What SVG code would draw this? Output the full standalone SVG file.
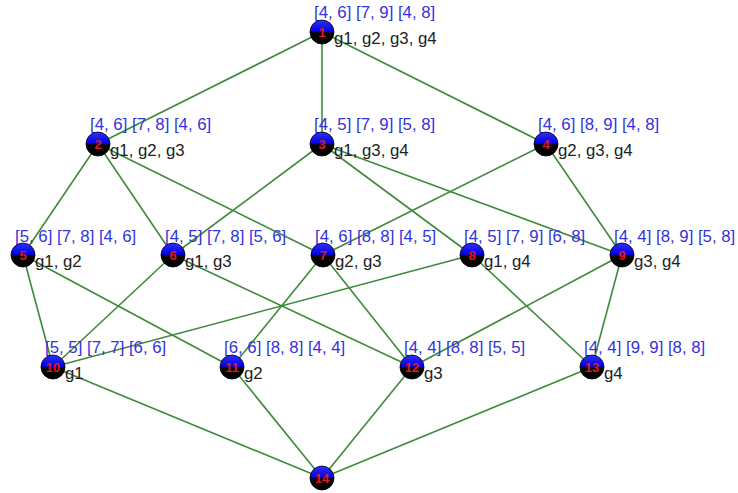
<svg xmlns="http://www.w3.org/2000/svg" width="738" height="493" viewBox="0 0 738 493">
<defs>
<linearGradient id="ball" x1="0" y1="0" x2="0" y2="1">
<stop offset="0" stop-color="#3030ff"/>
<stop offset="0.47" stop-color="#0000e8"/>
<stop offset="0.53" stop-color="#050505"/>
<stop offset="1" stop-color="#000"/>
</linearGradient>
</defs>
<style>
.e{stroke:#3f8a3a;stroke-width:1.6;fill:none}
.n circle{fill:url(#ball);stroke:#000;stroke-width:0.8}
.num{font-family:"Liberation Sans",Arial,sans-serif;font-size:13px;font-weight:bold;fill:#e01818;text-anchor:middle}
.iv{font-family:"Liberation Sans",Arial,sans-serif;font-size:16.8px;fill:#3333dc}
.g{font-family:"Liberation Sans",Arial,sans-serif;font-size:16.8px;fill:#222}
</style>
<rect width="738" height="493" fill="#fff"/>
<g id="connectors">
<line class="e" x1="322" y1="32" x2="98" y2="144"/>
<line class="e" x1="322" y1="32" x2="322" y2="144"/>
<line class="e" x1="322" y1="32" x2="546" y2="144"/>
<line class="e" x1="98" y1="144" x2="23" y2="255"/>
<line class="e" x1="98" y1="144" x2="173" y2="255"/>
<line class="e" x1="98" y1="144" x2="323" y2="255"/>
<line class="e" x1="322" y1="144" x2="173" y2="255"/>
<line class="e" x1="322" y1="144" x2="472" y2="255"/>
<line class="e" x1="322" y1="144" x2="622" y2="255"/>
<line class="e" x1="546" y1="144" x2="323" y2="255"/>
<line class="e" x1="546" y1="144" x2="622" y2="255"/>
<line class="e" x1="23" y1="255" x2="53" y2="367"/>
<line class="e" x1="23" y1="255" x2="232" y2="367"/>
<line class="e" x1="173" y1="255" x2="53" y2="367"/>
<line class="e" x1="173" y1="255" x2="412" y2="367"/>
<line class="e" x1="323" y1="255" x2="232" y2="367"/>
<line class="e" x1="323" y1="255" x2="412" y2="367"/>
<line class="e" x1="472" y1="255" x2="53" y2="367"/>
<line class="e" x1="472" y1="255" x2="592" y2="367"/>
<line class="e" x1="622" y1="255" x2="412" y2="367"/>
<line class="e" x1="622" y1="255" x2="592" y2="367"/>
<line class="e" x1="53" y1="367" x2="322" y2="478"/>
<line class="e" x1="232" y1="367" x2="322" y2="478"/>
<line class="e" x1="412" y1="367" x2="322" y2="478"/>
<line class="e" x1="592" y1="367" x2="322" y2="478"/>
</g>
<g id="n1" class="n"><text class="iv" x="314" y="18">[4, 6] [7, 9] [4, 8]</text><text class="g" x="334" y="44">g1, g2, g3, g4</text><circle cx="322" cy="32" r="12"/><text class="num" x="322" y="36.5">1</text></g>
<g id="n2" class="n"><text class="iv" x="90" y="130">[4, 6] [7, 8] [4, 6]</text><text class="g" x="110" y="156">g1, g2, g3</text><circle cx="98" cy="144" r="12"/><text class="num" x="98" y="148.5">2</text></g>
<g id="n3" class="n"><text class="iv" x="314" y="130">[4, 5] [7, 9] [5, 8]</text><text class="g" x="334" y="156">g1, g3, g4</text><circle cx="322" cy="144" r="12"/><text class="num" x="322" y="148.5">3</text></g>
<g id="n4" class="n"><text class="iv" x="538" y="130">[4, 6] [8, 9] [4, 8]</text><text class="g" x="558" y="156">g2, g3, g4</text><circle cx="546" cy="144" r="12"/><text class="num" x="546" y="148.5">4</text></g>
<g id="n5" class="n"><text class="iv" x="15" y="242">[5, 6] [7, 8] [4, 6]</text><text class="g" x="35" y="267">g1, g2</text><circle cx="23" cy="255" r="12"/><text class="num" x="23" y="259.5">5</text></g>
<g id="n6" class="n"><text class="iv" x="165" y="242">[4, 5] [7, 8] [5, 6]</text><text class="g" x="185" y="267">g1, g3</text><circle cx="173" cy="255" r="12"/><text class="num" x="173" y="259.5">6</text></g>
<g id="n7" class="n"><text class="iv" x="315" y="242">[4, 6] [8, 8] [4, 5]</text><text class="g" x="335" y="267">g2, g3</text><circle cx="323" cy="255" r="12"/><text class="num" x="323" y="259.5">7</text></g>
<g id="n8" class="n"><text class="iv" x="464" y="242">[4, 5] [7, 9] [6, 8]</text><text class="g" x="484" y="267">g1, g4</text><circle cx="472" cy="255" r="12"/><text class="num" x="472" y="259.5">8</text></g>
<g id="n9" class="n"><text class="iv" x="614" y="242">[4, 4] [8, 9] [5, 8]</text><text class="g" x="634" y="267">g3, g4</text><circle cx="622" cy="255" r="12"/><text class="num" x="622" y="259.5">9</text></g>
<g id="n10" class="n"><text class="iv" x="45" y="353">[5, 5] [7, 7] [6, 6]</text><text class="g" x="65" y="379">g1</text><circle cx="53" cy="367" r="12"/><text class="num" x="53" y="371.5">10</text></g>
<g id="n11" class="n"><text class="iv" x="224" y="353">[6, 6] [8, 8] [4, 4]</text><text class="g" x="244" y="379">g2</text><circle cx="232" cy="367" r="12"/><text class="num" x="232" y="371.5">11</text></g>
<g id="n12" class="n"><text class="iv" x="404" y="353">[4, 4] [8, 8] [5, 5]</text><text class="g" x="424" y="379">g3</text><circle cx="412" cy="367" r="12"/><text class="num" x="412" y="371.5">12</text></g>
<g id="n13" class="n"><text class="iv" x="584" y="353">[4, 4] [9, 9] [8, 8]</text><text class="g" x="604" y="379">g4</text><circle cx="592" cy="367" r="12"/><text class="num" x="592" y="371.5">13</text></g>
<g id="n14" class="n"><circle cx="322" cy="478" r="12"/><text class="num" x="322" y="482.5">14</text></g>
</svg>
